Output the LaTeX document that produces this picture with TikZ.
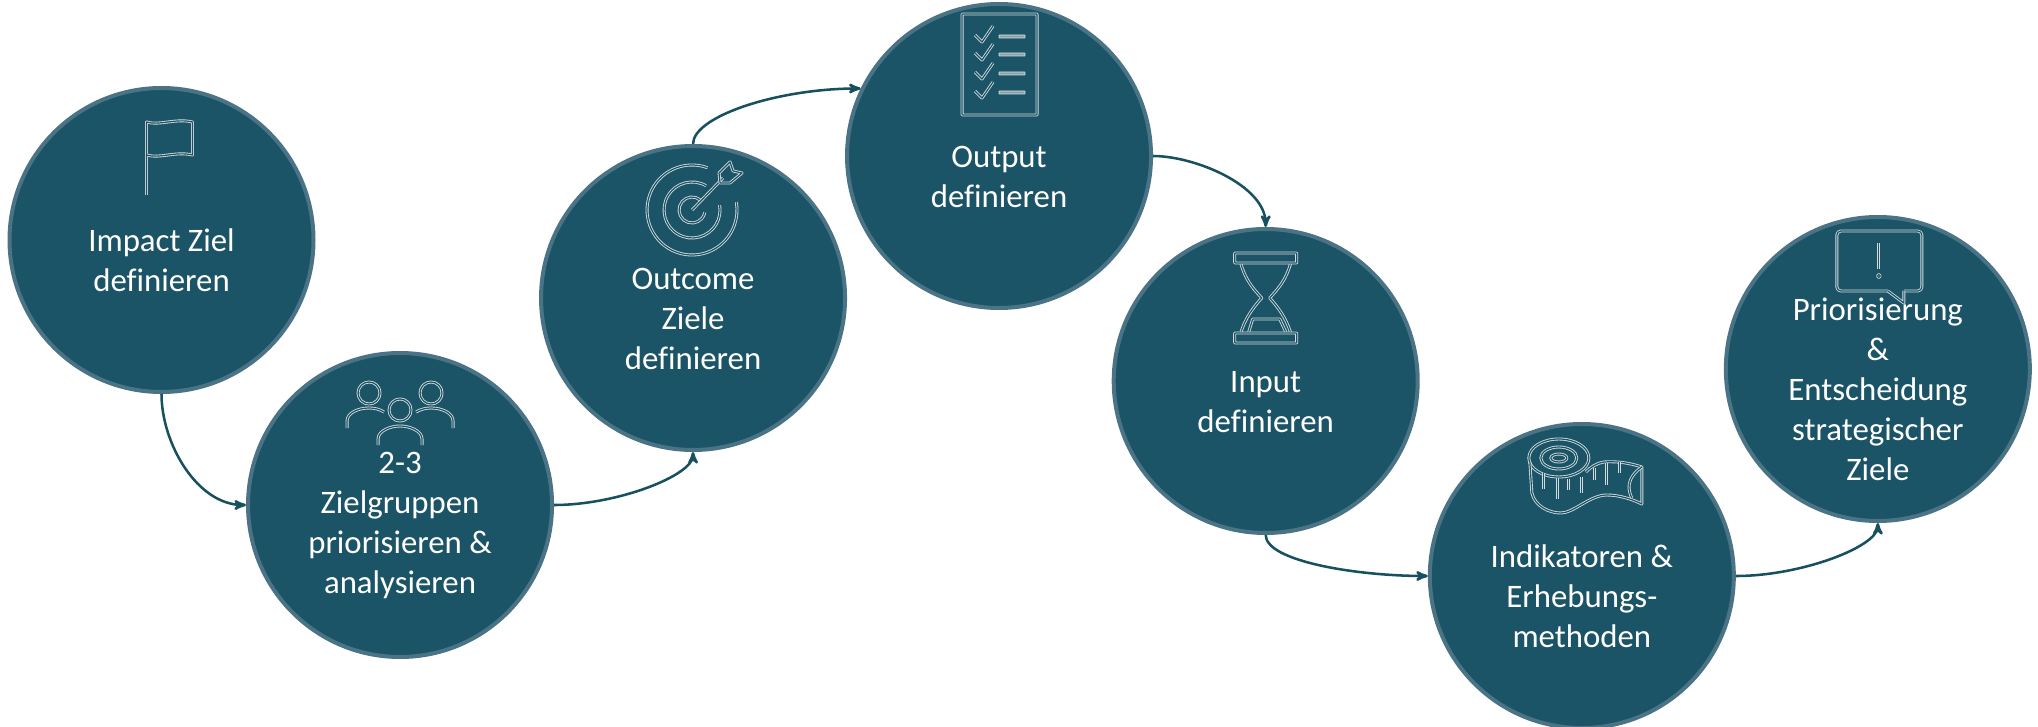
\documentclass[tikz,border=0pt]{standalone}
\usepackage{fontspec}
\setmainfont[Ligatures=CommonOff]{Carlito}
\usepackage{tikz}
\usetikzlibrary{arrows}
\definecolor{colorGoal}{HTML}{1B5466}
\definecolor{colorRim}{HTML}{4A7486}
\definecolor{colorFlow}{HTML}{17505F}
\definecolor{colorIcon}{HTML}{D4DADD}
\tikzset{
  goal/.style={circle, fill=colorGoal, draw=colorRim, line width=3pt, inner sep=0pt, minimum size=228pt},
  goaltext/.style={align=center, text=white, yshift=-15.5pt, font=\fontsize{24.6}{30}\selectfont},
  icon/.style={draw=colorIcon, double=colorGoal, line width=0.65pt, double distance=0.9pt, line join=round},
  iconbar/.style={icon, rounded corners=0.4pt},
  icondash/.style={draw=colorIcon, fill=colorIcon!60!colorGoal, line width=0.6pt, rounded corners=0.3pt},
  flow/.style={->, colorFlow, line width=1.9pt},
  iconflag/.pic={
    \draw[icon] (-15,-45) -- (-15,-118) .. controls (-2,-114) and (14,-122) .. (31,-118) -- (31,-85) .. controls (14,-89) and (-2,-81) .. (-15,-85);
  },
  iconpeople/.pic={
    \draw[icon] (0,-95) circle[radius=11];
    \draw[icon] (-31,-112) circle[radius=11];
    \draw[icon] (31,-112) circle[radius=11];
    \draw[icon] (-22,-60) -- (-22,-66) .. controls (-22,-74) and (-10,-79) .. (0,-79) .. controls (10,-79) and (22,-74) .. (22,-66) -- (22,-60);
    \draw[icon] (-53,-77) -- (-53,-84) .. controls (-53,-92) and (-42,-97) .. (-31,-97) .. controls (-26,-97) and (-21,-96) .. (-16,-93);
    \draw[icon] (53,-77) -- (53,-84) .. controls (53,-92) and (42,-97) .. (31,-97) .. controls (26,-97) and (21,-96) .. (16,-93);
  },
  icontarget/.pic={
    \draw[icon] (-1,-88) ++(-70:45) arc[start angle=-70, end angle=-370, radius=45];
    \draw[icon] (-1,-88) ++(-60:28) arc[start angle=-60, end angle=-370, radius=28];
    \draw[icon] (-1,-88) ++(-50:13) arc[start angle=-50, end angle=-350, radius=13];
    \draw[icon] (-1,-88) -- (30,-120);
    \draw[icon] (26,-125) -- (37,-136) -- (40,-127) -- (49,-125) -- (37,-115) -- (27,-115) -- cycle;
  },
  iconlist/.pic={
    \draw[iconbar] (-37,-142) rectangle (38,-41);
    \foreach \ypos in {-121,-103,-84,-65} {
      \draw[icon] (-24,\ypos) -- (-17,\ypos+7) -- (-6,\ypos-9);
      \draw[icondash] (0,\ypos) rectangle (26,\ypos+3);
    }
  },
  iconglass/.pic={
    \draw[icon] (-25,-118) .. controls (-20,-100) and (-12,-92) .. (-4,-83) .. controls (-12,-74) and (-20,-64) .. (-25,-48);
    \draw[icon] (25,-118) .. controls (20,-100) and (12,-92) .. (4,-83) .. controls (12,-74) and (20,-64) .. (25,-48);
    \draw[iconbar] (-17,-49) -- (-13,-62) -- (14,-62) -- (20,-49);
    \draw[iconbar] (-31,-128) rectangle (31,-118);
    \draw[iconbar] (-31,-48) rectangle (31,-38);
  },
  icontape/.pic={
    \draw[icon] (-23,-118) ellipse[x radius=30, y radius=19];
    \draw[icon] (-23,-118) ellipse[x radius=18, y radius=11];
    \draw[icon] (-23,-118) ellipse[x radius=8, y radius=4];
    \draw[icon] (-52,-114) -- (-50,-83) .. controls (-47,-70) and (-33,-63) .. (-21,-63) .. controls (-8,-63) and (8,-81) .. (25,-81) .. controls (37,-81) and (50,-77) .. (60,-72) -- (60,-109) .. controls (48,-113) and (35,-115) .. (22,-114) .. controls (15,-113) and (9,-109) .. (4,-104);
    \draw[icon] (60,-109) .. controls (50,-102) and (43,-92) .. (50,-78);
    \foreach \xpos/\ytop/\ybot in {-38/-103/-87, -24.5/-98/-77, -13/-97/-86, -0.5/-99/-83, 13/-108/-96, 25/-113/-91, 38/-114/-103} {
      \draw[icon] (\xpos,\ytop) -- (\xpos,\ybot);
    }
  },
  iconbubble/.pic={
    \draw[icon, rounded corners=3pt] (10,-78) -- (-41,-78) -- (-41,-138) -- (44,-138) -- (44,-78) -- (26,-78);
    \draw[icon] (10,-78) -- (26,-66) -- (26,-78);
    \draw[icon] (1,-126) -- (1,-100);
    \draw[icon] (1,-93) circle[radius=1.5];
  }
}

\begin{document}
\begin{tikzpicture}[>=stealth', x=0.75pt, y=-0.75pt, node distance=220pt]
\useasboundingbox (0,0) rectangle (2038,727);
\node[goal] (q1) at (161.5,240) {};
\node[goal, right of =q1, xshift=-41.1pt, yshift=-198.75pt] (q2) {};
\node[goal, right of =q2, xshift=-0.25pt, yshift=155.25pt] (q3) {};
\node[goal, right of =q3, xshift=9.5pt, yshift=106.5pt] (q4) {};
\node[goal, right of =q4, xshift=-20pt, yshift=-168.75pt] (q5) {};
\node[goal, right of =q5, xshift=17.1pt, yshift=-146.25pt] (q6) {};
\node[goal, right of =q6, xshift=2pt, yshift=155.25pt] (q7) {};
\node[goaltext] (t1) at (q1) {Impact Ziel\\definieren};
\node[goaltext] (t2) at (q2) {2-3\\Zielgruppen\\priorisieren \&\\analysieren};
\node[goaltext] (t3) at (q3) {Outcome\\Ziele\\definieren};
\node[goaltext] (t4) at (q4) {Output\\definieren};
\node[goaltext] (t5) at (q5) {Input\\definieren};
\node[goaltext] (t6) at (q6) {Indikatoren \&\\Erhebungs-\\methoden};
\node[goaltext] (t7) at (q7) {Priorisierung\\\&\\Entscheidung\\strategischer\\Ziele};
\pic at (q1) {iconflag};
\pic at (q2) {iconpeople};
\pic at (q3) {icontarget};
\pic at (q4) {iconlist};
\pic at (q5) {iconglass};
\pic at (q6) {icontape};
\pic at (q7) {iconbubble};
\draw [flow] (q1.south) to [out=-90, in=180, looseness=0.9] (q2.west);
\draw [flow] (q2.east) to [out=0, in=-90, out looseness=1.1, in looseness=0.4] (q3.south);
\draw [flow] (q3.north) to [out=90, in=180, out looseness=0.4, in looseness=1.2] (q4.154);
\draw [flow] (q4.east) to [out=0, in=90, looseness=0.8] (q5.north);
\draw [flow] (q5.south) to [out=-90, in=180, out looseness=0.4, in looseness=1.1] (q6.west);
\draw [flow] (q6.east) to [out=0, in=-90, out looseness=1.1, in looseness=0.4] (q7.south);
\end{tikzpicture}
\end{document}
